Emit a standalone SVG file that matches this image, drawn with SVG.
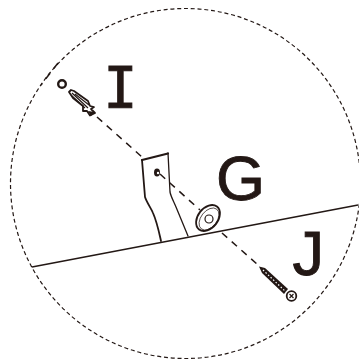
<svg xmlns="http://www.w3.org/2000/svg" width="359" height="363" viewBox="0 0 359 363">
<style>
.d{fill:none;stroke:#231815;stroke-width:1.2;stroke-dasharray:4 2.800}
.a{fill:none;stroke:#231815;stroke-width:1.500;stroke-dasharray:7 6}
.s{fill:none;stroke:#231815;stroke-linecap:round;stroke-linejoin:round}
.t{fill:#231815;stroke:#231815;stroke-width:.9;font-family:"Liberation Sans",Arial,sans-serif;font-size:63px}
</style>
<rect width="359" height="363" fill="#fff"/>
<g id="connectors">
<circle class="d" cx="185.500" cy="183.500" r="175"/>
<path class="a" d="M58 63L41 85"/>
<path class="a" d="M97 117L142 157"/>
<path class="a" d="M160 174L200 210"/>
<path class="a" d="M222 233L258 265"/>
<path d="M32 267L358 205" fill="none" stroke="#231815" stroke-width="1.500"/>
</g>
<g id="bracket">
<path class="s" stroke-width="1.300" d="M168 153L170 192C171 197 174 202 176 207L188 236"/>
<path class="s" stroke-width="1.800" d="M142 160L145 197C147 203 151 208 153 213C157 222 159 232 161 241"/>
<path class="s" stroke-width="2.200" d="M142 160L168 153.500"/>
<ellipse cx="157" cy="172.500" rx="3" ry="4" fill="#231815"/>
<circle cx="158" cy="173" r="1.200" fill="#fff"/>
</g>
<g id="washer">
<ellipse cx="208" cy="218" rx="10" ry="14.500" transform="rotate(38 208 218)" fill="#fff" stroke="#231815" stroke-width="1.800"/>
<ellipse cx="209" cy="219" rx="8" ry="12.500" transform="rotate(38 209 219)" fill="none" stroke="#231815" stroke-width=".7"/>
<circle cx="209" cy="219" r="4" fill="#fff" stroke="#231815" stroke-width="1.200"/>
</g>
<g id="anchor">
<circle cx="62" cy="84" r="3.800" fill="#fff" stroke="#231815" stroke-width="2.400"/>
<path d="M69 92L71 90L74 91L88 101L90 106L94 107L91 109L94 112L95 113L90 115.500L87 111L83 111L83 106L73 98Z" fill="#fff" stroke="#231815" stroke-width="1.800" stroke-linejoin="round"/>
<path d="M72 93L88 108M75 94L89 105M72 96L85 108" fill="none" stroke="#231815" stroke-width="1.200"/>
<path d="M88 111L91 116L95 112Z" fill="#231815"/>
</g>
<g id="screw">
<path d="M259 266.500L265 268L288 289L284 294L262 273Z" fill="#231815"/>
<path d="M263 270L286 292" stroke="#fff" stroke-width="1.200" stroke-dasharray="1.500 2" fill="none"/>
<circle cx="291.500" cy="296" r="4.800" fill="#fff" stroke="#231815" stroke-width="1.800"/>
<path d="M289.500 294L293.500 298M293.500 294L289.500 298" stroke="#231815" stroke-width="1.200"/>
</g>
<g id="label-i"><text x="120.500" y="108" text-anchor="middle" style="fill:#231815;stroke:#231815;stroke-width:.8;font-family:'DejaVu Sans Mono',monospace;font-size:57px">I</text></g>
<g id="label-g"><text class="t" x="216" y="200">G</text></g>
<g id="label-j"><text class="t" x="292.500" y="275">J</text></g>
</svg>
